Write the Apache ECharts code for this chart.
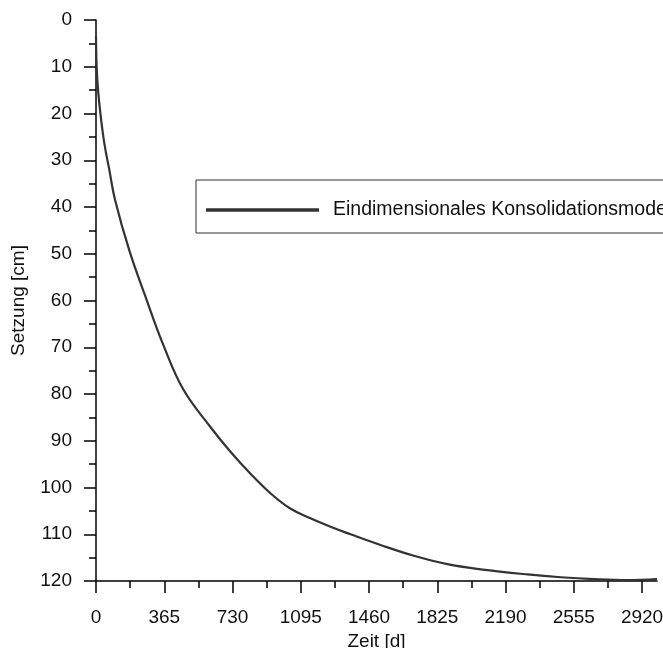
<!DOCTYPE html>
<html>
<head>
<meta charset="utf-8">
<script src="https://cdn.jsdelivr.net/npm/echarts@6/dist/echarts.min.js"></script>
<style>
html,body{margin:0;padding:0;background:#fff;}
#chart{width:663px;height:648px;}
</style>
</head>
<body>
<div id="chart"></div>
<script>
// Data
var days = [0, 3, 10, 25, 45, 71, 102, 179, 271, 361, 468, 611, 718, 825, 932, 1039, 1147, 1254, 1361, 1522, 1700, 1879, 2057, 2308, 2486, 2665, 2843, 3000];
var settlement = [3.5, 9.5, 14.5, 20.5, 26.5, 32.0, 38.5, 49.4, 59.9, 69.6, 79.1, 87.0, 92.3, 97.0, 101.2, 104.5, 106.6, 108.4, 110.0, 112.3, 114.6, 116.4, 117.5, 118.6, 119.2, 119.6, 119.8, 119.6];
var xMajorTicks = [0, 365, 730, 1095, 1460, 1825, 2190, 2555, 2920];
var xMinorTicks = [182.5, 547.5, 912.5, 1277.5, 1642.5, 2007.5, 2372.5, 2737.5];
var seriesName = 'Eindimensionales Konsolidationsmodell';
var xName = 'Zeit [d]';
var yName = 'Setzung [cm]';

var FONT = '"Liberation Sans", Arial, sans-serif';
var FS = 19;
var chart = echarts.init(document.getElementById('chart'), null, {renderer: 'canvas'});
var points = days.map(function (d, i) { return [d, settlement[i]]; });
var gridBox = {left: 96, right: 6, top: 20, bottom: 67, containLabel: false, outerBoundsMode: 'none'};

chart.setOption({
  animation: false,
  backgroundColor: '#fff',
  textStyle: {fontFamily: FONT},
  grid: [gridBox, Object.assign({}, gridBox)],
  legend: {
    show: true,
    left: 196,
    top: 180,
    orient: 'horizontal',
    padding: [20, 400, 13, 10],
    itemWidth: 113,
    itemHeight: 18,
    borderColor: '#333',
    borderWidth: 1,
    backgroundColor: '#fff',
    textStyle: {fontFamily: FONT, fontSize: 19.5, color: '#111', padding: [0, 0, 0, 9]},
    data: [{name: seriesName, icon: 'path://M0,0 L100,0 L100,3 L0,3 Z', itemStyle: {color: '#333'}}]
  },
  xAxis: [{
    gridIndex: 0,
    type: 'value',
    min: 0,
    max: 3000,
    interval: 365,
    name: xName,
    nameLocation: 'middle',
    nameGap: 51,
    nameTextStyle: {fontFamily: FONT, fontSize: FS, color: '#111'},
    axisLine: {show: true, onZero: false, lineStyle: {color: '#000', width: 1.5}},
    axisTick: {show: true, inside: false, length: 12, lineStyle: {color: '#000', width: 1.5}, customValues: xMajorTicks},
    axisLabel: {show: true, margin: 27, fontFamily: FONT, fontSize: FS, color: '#111', customValues: xMajorTicks,
      formatter: function (v) { return String(v); }},
    splitLine: {show: false},
    minorTick: {show: false}
  }, {
    gridIndex: 1,
    type: 'value',
    min: 0,
    max: 3000,
    position: 'bottom',
    axisLine: {show: false, onZero: false},
    axisTick: {show: true, inside: false, length: 7, lineStyle: {color: '#000', width: 1.5}, customValues: xMinorTicks},
    axisLabel: {show: false},
    splitLine: {show: false}
  }],
  yAxis: [{
    gridIndex: 0,
    type: 'value',
    inverse: true,
    min: 0,
    max: 120,
    interval: 10,
    name: yName,
    nameLocation: 'middle',
    nameGap: 68,
    nameRotate: 90,
    nameTextStyle: {fontFamily: FONT, fontSize: FS, color: '#111'},
    axisLine: {show: true, onZero: false, lineStyle: {color: '#000', width: 1.5}},
    axisTick: {show: true, inside: false, length: 12, lineStyle: {color: '#000', width: 1.5}},
    minorTick: {show: true, splitNumber: 2, length: 7, lineStyle: {color: '#000', width: 1.5}},
    axisLabel: {show: true, margin: 24, fontFamily: FONT, fontSize: FS, color: '#111'},
    splitLine: {show: false},
    minorSplitLine: {show: false}
  }, {
    gridIndex: 1,
    type: 'value',
    inverse: true,
    min: 0,
    max: 120,
    show: false
  }],
  series: [{
    name: seriesName,
    type: 'line',
    xAxisIndex: 0,
    yAxisIndex: 0,
    data: points,
    smooth: 0.4,
    showSymbol: false,
    symbol: 'none',
    clip: true,
    lineStyle: {color: '#333', width: 2.2},
    itemStyle: {color: '#333'}
  }]
});
</script>
</body>
</html>
